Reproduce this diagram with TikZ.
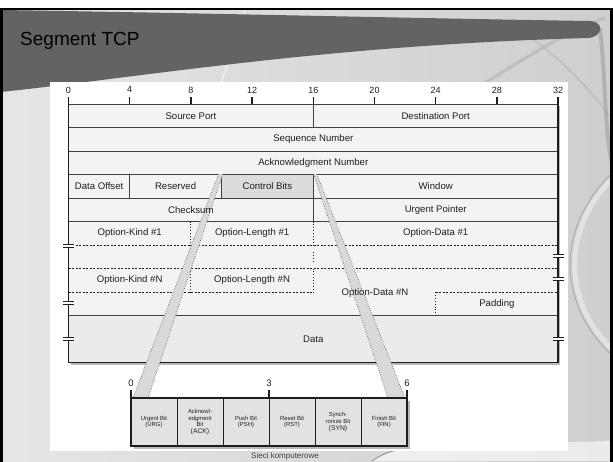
\documentclass[tikz,border=0pt]{standalone}
\usepackage{fontspec}
\setmainfont{Liberation Sans}
\usetikzlibrary{calc}
\definecolor{bandgray}{HTML}{636363}
\definecolor{rowfill}{HTML}{F3F3F3}
\definecolor{datafill}{HTML}{EBEBEB}
\definecolor{ctrlfill}{HTML}{DCDCDC}
\definecolor{flagfill}{HTML}{E2E2E2}
\definecolor{zoomfill}{HTML}{D9D9D9}
\definecolor{ink}{HTML}{1E1E1E}
\tikzset{
  field/.style={font=\fontsize{9.6}{10}\selectfont, text=ink, inner sep=0pt},
  rulerlbl/.style={font=\fontsize{9}{10}\selectfont, text=ink, inner sep=0pt},
  flaglbl/.style={font=\fontsize{9.5}{10}\selectfont, text=ink, inner sep=0pt},
  flagcell/.style={draw=ink, line width=0.8pt, fill=flagfill, minimum width=46pt,
    minimum height=48pt, inner sep=0pt, align=center, text=ink,
    font=\fontsize{5.9}{6.7}\selectfont},
  solidline/.style={draw=ink!85, line width=0.7pt},
  dotline/.style={draw=ink, line width=0.9pt, dotted},
  dashline/.style={draw=ink, line width=0.7pt, dash pattern=on 2pt off 1.5pt},
  outline/.style={draw=ink, line width=1.4pt},
  zoomedge/.style={draw=black!55, line width=0.8pt, dash pattern=on 0.8pt off 1.6pt},
  tickmark/.style={draw=ink, line width=1.3pt},
  brk/.pic={
    \fill[white] (-5,-1.8) rectangle (5,1.8);
    \draw[ink, line width=1.1pt] (-5.5,-1.8) -- (5.5,-1.8) (-5.5,1.8) -- (5.5,1.8);
  }
}
\begin{document}
\begin{tikzpicture}[x=1pt,y=-1pt]
\useasboundingbox (0,0) rectangle (613,461);
\clip (0,0) rectangle (613,461);
\fill[white] (0,0) rectangle (613,461);

% slide background with soft swooshes
\shade[left color=black!10, right color=black!19] (1,9) rectangle (612,461);
\draw[white, opacity=0.4, line width=5pt] (613,178) .. controls (562,228) and (562,302) .. (613,350);
\draw[black!35, line width=0.8pt] (613,172) .. controls (556,226) and (556,304) .. (613,356);
\fill[white, opacity=0.6] (372,461) .. controls (385,452) and (400,447) .. (430,446) -- (613,441) -- (613,461) -- cycle;
\draw[black!40, line width=1pt] (372,461) .. controls (385,452) and (400,447) .. (430,446);
\draw[white, opacity=0.45, line width=2pt] (245,10) .. controls (236,40) and (226,70) .. (216,95);
\draw[black!30, opacity=0.6, line width=3pt] (470,92) .. controls (520,62) and (560,34) .. (605,18);
\draw[black!28, opacity=0.6, line width=2pt] (500,20) .. controls (540,40) and (575,70) .. (613,120);
\draw[black!35, opacity=0.7, line width=4pt] (600,28) .. controls (606,80) and (604,130) .. (613,170);

% title band
\fill[bandgray] (1,10) -- (1,92) .. controls (150,76) and (330,45) .. (588,38)
  .. controls (603,37) and (605,22) .. (590,21) .. controls (400,18) and (200,13) .. (1,10) -- cycle;
\draw[black, line width=2.5pt] (1.5,470) -- (1.5,9) -- (611.5,9) -- (611.5,470);
\node[font=\fontsize{19}{22}\selectfont, anchor=base west, text=black, inner sep=0pt] (title) at (20,45) {Segment TCP};

% white diagram area
\fill[white] (50,82) rectangle (568,451);

% header table: x = bit number, y = row number
\begin{scope}[shift={(68.5,104)}, x=15.3pt, y=-23.5pt]
  \fill[black!28] (0.15,0.1) rectangle (32.15,11.1);
  \fill[rowfill] (0,0) rectangle (32,9);
  \fill[datafill] (0,9) rectangle (32,11);
  \node[field, fill=ctrlfill, draw=ink!85, line width=0.7pt,
        minimum width=91.8pt, minimum height=23.5pt] (ctrl) at (13,3.5) {Control Bits};
  \foreach \r in {0,...,5,9} \draw[solidline] (0,\r) -- (32,\r);
  \draw[solidline] (16,0) -- (16,1) (4,3) -- (4,4) (10,3) -- (10,4) (16,3) -- (16,5);
  \draw[dotline] (8,5) -- (8,6) (16,5) -- (16,6) (16,6.3) -- (16,6.7)
                 (8,7) -- (8,8) (16,7) -- (16,8) (24,8) -- (24,9);
  \draw[dashline] (0,6) -- (32,6) (0,7) -- (32,7) (0,8) -- (16,8) (24,8) -- (32,8);
  \draw[outline] (0,0) -- (0,11) -- (32,11) -- (32,0);
  % bit ruler
  \foreach \i [evaluate=\i as \b using int(4*\i)] in {0,...,8} {
    \draw[tickmark] (\b,-0.3) -- (\b,0);
    \node[rulerlbl] (r\b) at (\b,-0.6) {\b};
  }
\end{scope}

% break marks on the table border
\foreach \yy in {246,303,339} \pic at (68.5,\yy) {brk};
\foreach \yy in {256,279,339} \pic at (558.1,\yy) {brk};

% corners of the flag row
\coordinate (flagL) at (131,398);
\coordinate (flagR) at (407,398);

% zoom bands from the Control Bits field down to the flag row
\coordinate (la) at ($(ctrl.north west)+(-2.5pt,0pt)$);
\coordinate (lb) at ($(ctrl.north west)+(1.5pt,0pt)$);
\coordinate (lc) at ($(flagL)+(17pt,0pt)$);
\coordinate (ld) at ($(flagL)+(2pt,0pt)$);
\coordinate (ra) at ($(ctrl.north east)+(0pt,0pt)$);
\coordinate (rb) at ($(ctrl.north east)+(3pt,0pt)$);
\coordinate (rc) at ($(flagR)+(-2pt,0pt)$);
\coordinate (rd) at ($(flagR)+(-19pt,0pt)$);
\fill[zoomfill] (la) -- (lb) -- (lc) -- (ld) -- cycle;
\draw[zoomedge] (la) -- (ld) (lb) -- (lc);
\fill[zoomfill] (ra) -- (rb) -- (rc) -- (rd) -- cycle;
\draw[zoomedge] (ra) -- (rd) (rb) -- (rc);

% field labels
\begin{scope}[shift={(68.5,104)}, x=15.3pt, y=-23.5pt]
  \node[field] (sport) at (8,0.5) {Source Port};
  \node[field] (dport) at (24,0.5) {Destination Port};
  \node[field] (seq) at (16,1.5) {Sequence Number};
  \node[field] (ack) at (16,2.5) {Acknowledgment Number};
  \node[field] (doff) at (2,3.5) {Data Offset};
  \node[field] (resv) at (7,3.5) {Reserved};
  \node[field] (win) at (24,3.5) {Window};
  \node[field] (csum) at (8,4.5) {Checksum};
  \node[field] (urgp) at (24,4.5) {Urgent Pointer};
  \node[field] (ok1) at (4,5.5) {Option-Kind \#1};
  \node[field] (ol1) at (12,5.5) {Option-Length \#1};
  \node[field] (od1) at (24,5.5) {Option-Data \#1};
  \node[field] (okn) at (4,7.5) {Option-Kind \#N};
  \node[field] (oln) at (12,7.5) {Option-Length \#N};
  \node[field] (odn) at (20.03,8.04) {Option-Data \#N};
  \node[field] (pad) at (28,8.5) {Padding};
  \node[field] (data) at (16,10) {Data};
\end{scope}

% flag row
\fill[black!28] (133.5,400.5) rectangle (409.5,448.5);
\begin{scope}[shift={(131,398)}, x=46pt, y=-48pt]
  \node[flagcell] (urg) at (0.5,0.5) {Urgent Bit\\(URG)};
  \node[flagcell] (ackf) at (1.5,0.5) {Acknowl-\\edgment\\Bit\\{\fontsize{6.8}{7.4}\selectfont(ACK)}};
  \node[flagcell] (psh) at (2.5,0.5) {Push Bit\\(PSH)};
  \node[flagcell] (rst) at (3.5,0.5) {Reset Bit\\(RST)};
  \node[flagcell] (syn) at (4.5,0.5) {Synch-\\ronize Bit\\{\fontsize{6.8}{7.4}\selectfont(SYN)}};
  \node[flagcell] (fin) at (5.5,0.5) {Finish Bit\\(FIN)};
  \draw[outline] (0,0) rectangle (6,1);
  \foreach \b in {0,3,6} {
    \draw[tickmark] (\b,-0.17) -- (\b,0);
    \node[flaglbl] (f\b) at (\b,-0.31) {\b};
  }
\end{scope}

% footer
\node[font=\fontsize{8}{9}\selectfont, text=ink!85, anchor=south, inner sep=0pt] (footer) at (285,460) {Sieci komputerowe};
\end{tikzpicture}
\end{document}
